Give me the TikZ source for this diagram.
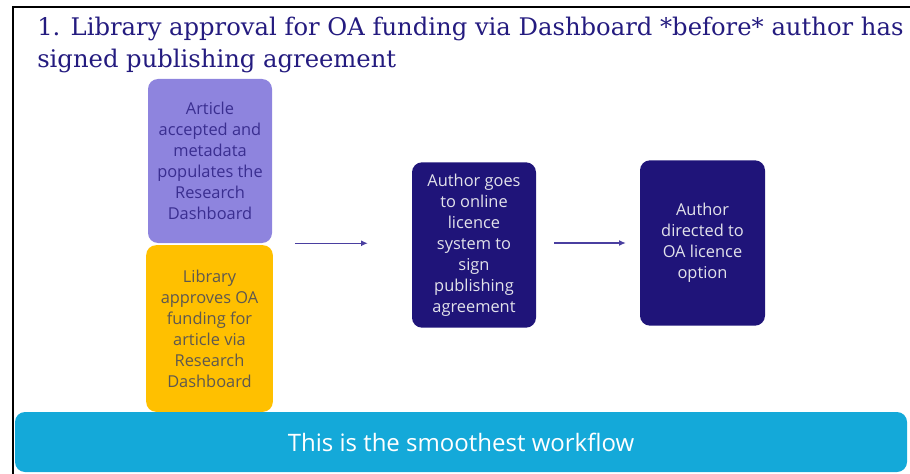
\documentclass[tikz,border=0pt]{standalone}
\usepackage{fontspec}
\setmainfont{DejaVu Serif}
\newfontfamily\boxfont{Open Sans}
\usetikzlibrary{arrows.meta}

\definecolor{titleblue}{HTML}{241B7F}
\definecolor{lilac}{HTML}{8E84DE}
\definecolor{lilacink}{HTML}{3A2E90}
\definecolor{amber}{HTML}{FFC000}
\definecolor{amberink}{HTML}{5E5850}
\definecolor{navy}{HTML}{1F1479}
\definecolor{navyink}{HTML}{E2E2EA}
\definecolor{flowline}{HTML}{4A3FA0}
\definecolor{skyblue}{HTML}{14A9D9}

\tikzset{
	stepbox/.style={rounded corners=7.5pt, inner sep=0pt, align=center,
		minimum width=93pt, minimum height=124pt,
		font=\boxfont\fontsize{12.3}{15.75}\selectfont},
	flow/.style={-{Latex[length=5pt,width=4.5pt]}, line width=0.9pt, draw=flowline},
}

\begin{document}
\begin{tikzpicture}[x=0.75pt, y=-0.75pt]
			\useasboundingbox (0,0) rectangle (910,474);
			% frame
			\draw[line width=1.5pt] (13,474) -- (13,7) -- (910,7);

			% heading
			\node[anchor=north west, inner sep=0pt, align=left, text=titleblue,
				font=\fontsize{18.2}{24}\selectfont] (title) at (37,17)
				{1. Library approval for OA funding via Dashboard *before* author has\\
				signed publishing agreement};

			% two first steps, stacked
			\node[stepbox, fill=lilac, text=lilacink, minimum height=123pt] (accepted) at (210,161)
				{Article\\accepted and\\metadata\\populates the\\Research\\Dashboard};
			\node[stepbox, fill=amber, text=amberink, minimum width=95pt, minimum height=125pt] (approves) at (209.5,328.5)
				{Library\\approves OA\\funding for\\article via\\Research\\Dashboard};

			% author steps
			\node[stepbox, fill=navy, text=navyink] (signs) at (474,245)
				{Author goes\\to online\\licence\\system to\\sign\\publishing\\agreement};
			\node[stepbox, fill=navy, text=navyink, minimum width=93.75pt] (option) at (702.5,243)
				{Author\\directed to\\OA licence\\option};

			% arrows
			\draw[flow, shorten <=17pt, shorten >=33pt] (accepted.south east) -- (accepted.south east -| signs.west);
			\draw[flow, shorten <=13.5pt, shorten >=10.5pt] (signs.east |- option.west) -- (option.west);

			% banner
			\node[fill=skyblue, rounded corners=7.5pt, minimum width=669pt, minimum height=45pt,
				text=white, font=\boxfont\fontsize{18}{20}\selectfont] (banner) at (461,442)
				{This is the smoothest workflow};
		\end{tikzpicture}
\end{document}
